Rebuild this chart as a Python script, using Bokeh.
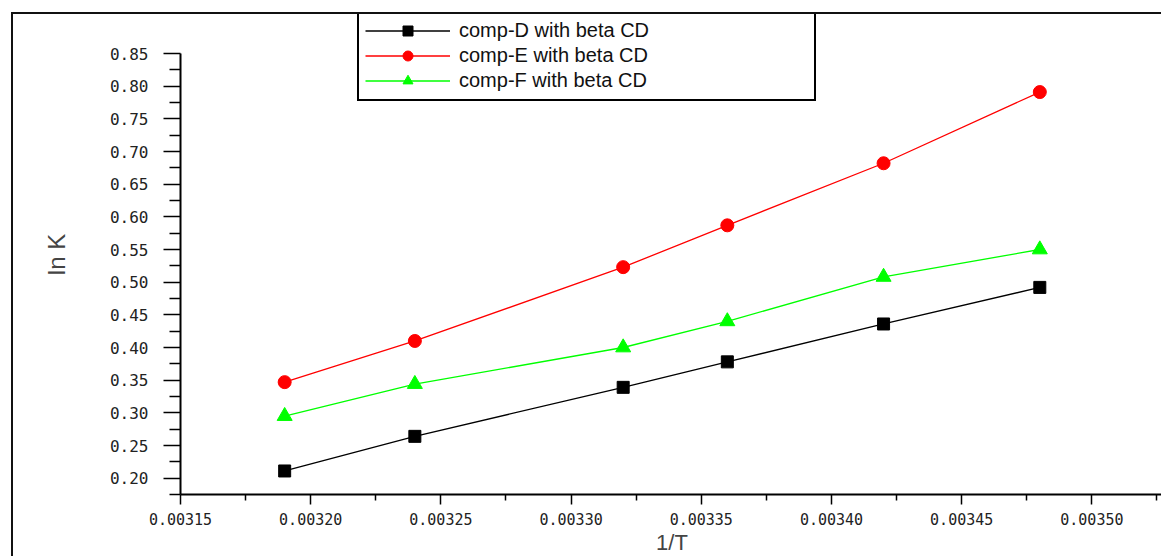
from bokeh.plotting import figure
from bokeh.models import Range1d, FixedTicker, NumeralTickFormatter, Legend, LegendItem
from bokeh.embed import file_html
from bokeh.resources import INLINE

# ---- data ----
inv_T = [0.00319, 0.00324, 0.00332, 0.00336, 0.00342, 0.00348]
lnK_D = [0.211, 0.264, 0.339, 0.378, 0.436, 0.492]
lnK_E = [0.347, 0.410, 0.523, 0.587, 0.682, 0.791]
lnK_F = [0.295, 0.344, 0.400, 0.440, 0.508, 0.550]

series_labels = ["comp-D with beta CD", "comp-E with beta CD", "comp-F with beta CD"]
series_colors = ["#000000", "#FF0000", "#00FF00"]
series_markers = ["square", "circle", "triangle"]

x_ticks = [0.00315, 0.00320, 0.00325, 0.00330, 0.00335, 0.00340, 0.00345, 0.00350]
y_ticks = [0.20, 0.25, 0.30, 0.35, 0.40, 0.45, 0.50, 0.55, 0.60, 0.65, 0.70, 0.75, 0.80, 0.85]
x_minor = [round(t + 0.000025, 6) for t in x_ticks]
y_minor = [round(t - 0.025, 3) for t in y_ticks]

p = figure(
    width=1150, height=544,
    x_range=Range1d(0.00315, 0.0035275),
    y_range=Range1d(0.175, 0.9097),
    output_backend="svg", toolbar_location=None,
    min_border_left=167, min_border_right=0,
    min_border_top=0, min_border_bottom=64,
    styles={"margin-left": "11px", "margin-top": "12px",
            "border-left": "2px solid #111", "border-top": "2px solid #111"},
)
p.outline_line_color = None
p.xgrid.visible = False
p.ygrid.visible = False
p.background_fill_color = "white"
p.border_fill_color = "white"

sizes = [12, 13, 15]
items = []
for ys, lab, col, mk, sz in zip([lnK_D, lnK_E, lnK_F], series_labels, series_colors, series_markers, sizes):
    rl = p.line(inv_T, ys, line_color=col, line_width=1.3)
    rs = p.scatter(inv_T, ys, marker=mk, size=sz, fill_color=col, line_color=col)
    items.append(LegendItem(label=lab, renderers=[rl, rs]))

legend = Legend(
    items=items, location=(177, 393),
    padding=6, spacing=0, margin=0,
    glyph_width=85, glyph_height=25, label_height=25,
    label_standoff=9, label_width=349,
    label_text_font="Liberation Sans", label_text_font_size="20px",
    label_text_color="#111111",
    border_line_color="black", border_line_width=2, border_line_alpha=1.0,
    background_fill_color="white", background_fill_alpha=1.0,
)
p.add_layout(legend)

# axes
xa = p.xaxis[0]
xa.ticker = FixedTicker(ticks=x_ticks, minor_ticks=x_minor)
xa.formatter = NumeralTickFormatter(format="0.00000")
xa.axis_line_width = 2
xa.major_tick_line_width = 1.5
xa.minor_tick_line_width = 1.5
xa.major_tick_in = 0
xa.major_tick_out = 10
xa.minor_tick_in = 0
xa.minor_tick_out = 6
xa.major_label_standoff = 8
xa.major_label_text_font = "DejaVu Sans Mono"
xa.major_label_text_font_size = "15px"
xa.major_label_text_color = "#222222"
xa.axis_label = "1/T"
xa.axis_label_text_font = "Liberation Sans"
xa.axis_label_text_font_size = "22px"
xa.axis_label_text_font_style = "normal"
xa.axis_label_standoff = 2

ya = p.yaxis[0]
ya.ticker = FixedTicker(ticks=y_ticks, minor_ticks=y_minor)
ya.formatter = NumeralTickFormatter(format="0.00")
ya.bounds = (0.175, 0.85)
ya.axis_line_width = 2
ya.major_tick_line_width = 1.5
ya.minor_tick_line_width = 1.5
ya.major_tick_in = 0
ya.major_tick_out = 17
ya.minor_tick_in = 0
ya.minor_tick_out = 11
ya.major_label_standoff = 15
ya.major_label_text_font = "DejaVu Sans Mono"
ya.major_label_text_font_size = "16px"
ya.major_label_text_color = "#222222"
ya.axis_label = "ln K"
ya.axis_label_text_font = "Liberation Sans"
ya.axis_label_text_font_size = "24px"
ya.axis_label_text_font_style = "normal"
ya.axis_label_text_align = "right"
ya.axis_label_standoff = 37

open("out.html", "w").write(file_html(p, INLINE))
